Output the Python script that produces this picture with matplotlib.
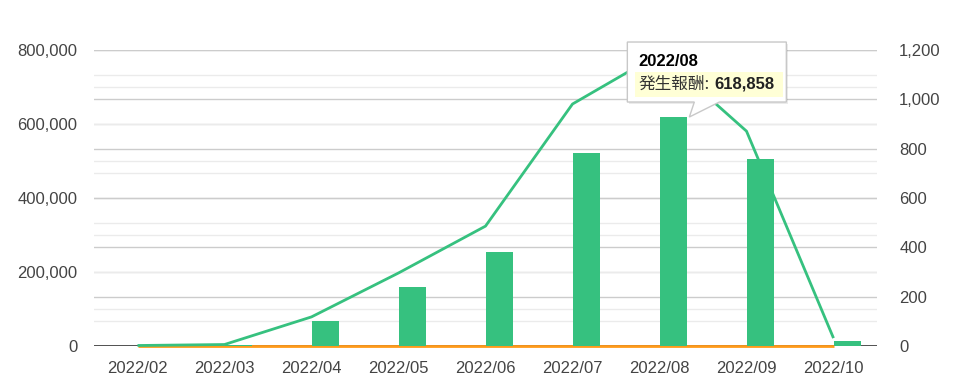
import matplotlib
matplotlib.use('Agg')
import matplotlib.pyplot as plt
from matplotlib.patches import Polygon, Rectangle
from matplotlib.transforms import IdentityTransform
from matplotlib.ticker import FuncFormatter

plt.rcParams['font.family'] = ['Liberation Sans', 'Noto Sans CJK JP', 'DejaVu Sans']

# データ
months = ['2022/02', '2022/03', '2022/04', '2022/05', '2022/06',
          '2022/07', '2022/08', '2022/09', '2022/10']
reward = [0, 4000, 68000, 159000, 253000, 522000, 618858, 505000, 13500]   # 発生報酬 (左軸)
count = [2, 6, 118, 296, 486, 981, 1185, 871, 32]                          # 件数 (右軸)
other = [0, 0, 0, 0, 0, 0, 0, 0, 0]                                        # オレンジの線
tip_idx = 6

green = '#36c17f'
orange = '#ff9a1a'
label_col = '#444444'

fig = plt.figure(figsize=(9.66, 3.9), dpi=100)
rect = [94 / 966, 44 / 390, 783 / 966, 296 / 390]

# グリッド用の一番下の軸
axg = fig.add_axes(rect, zorder=0)
ax2 = fig.add_axes(rect, zorder=1)   # 折れ線 (右軸)
ax = fig.add_axes(rect, zorder=2)    # 棒 (左軸)

x = list(range(len(months)))
for a in (axg, ax2, ax):
    a.set_xlim(-0.5, len(months) - 0.5)
    for s in a.spines.values():
        s.set_visible(False)
    a.tick_params(length=0)

ax.set_ylim(0, 800000)
axg.set_ylim(0, 800000)
ax2.set_ylim(0, 1200)

# グリッド線
for v in range(100000, 800001, 100000):
    axg.axhline(v, color='#ebebeb' if v % 200000 else '#dedede', lw=1, zorder=0)
for v in range(100, 1201, 100):
    axg.axhline(v * 800000 / 1200, color='#ebebeb' if v % 200 else '#cccccc', lw=1, zorder=0)
axg.axhline(0, color='#333333', lw=1.2, zorder=1)
axg.set_xticks([])
axg.set_yticks([])

# 折れ線
ax2.patch.set_visible(False)
ax2.plot(x, other, color=orange, lw=2, solid_capstyle='butt', zorder=2, clip_on=False)
ax2.plot(x, count, color=green, lw=2, solid_capstyle='butt', zorder=3, clip_on=False)
ax2.set_xticks([])
ax2.yaxis.tick_right()
ax2.set_yticks(range(0, 1201, 200))
ax2.yaxis.set_major_formatter(FuncFormatter(lambda v, p: f'{int(v):,}'))
ax2.tick_params(axis='y', labelsize=12, labelcolor=label_col, pad=16)

# 棒
ax.patch.set_visible(False)
bw = 0.31
ax.bar([i + 0.01 for i in x], reward, width=bw, align='edge', color=green, zorder=3)
ax.set_xticks(x)
ax.set_xticklabels(months)
ax.set_yticks(range(0, 800001, 200000))
ax.yaxis.set_major_formatter(FuncFormatter(lambda v, p: f'{int(v):,}'))
ax.tick_params(axis='both', labelsize=12, labelcolor=label_col)
ax.tick_params(axis='y', pad=12)
ax.tick_params(axis='x', pad=11)

# ツールチップ
tx, ty = ax.transData.transform((tip_idx + 0.01 + bw, reward[tip_idx]))
tx += 2
ident = IdentityTransform()
shadow = Rectangle((tx - 60, ty + 13), 159, 60, transform=ident,
                   facecolor='#000000', alpha=0.08, edgecolor='none', zorder=9)
fig.add_artist(shadow)
box = Polygon([(tx - 62, ty + 15), (tx + 5, ty + 15), (tx, ty), (tx + 30, ty + 15),
               (tx + 97, ty + 15), (tx + 97, ty + 75), (tx - 62, ty + 75)],
              closed=True, transform=ident, facecolor='white', edgecolor='#c8c8c8',
              lw=1, zorder=10)
fig.add_artist(box)
hl = Rectangle((tx - 54, ty + 20), 148, 25, transform=ident,
               facecolor='#ffffd6', edgecolor='none', zorder=11)
fig.add_artist(hl)

t1 = fig.text(tx - 51, ty + 56, months[tip_idx], transform=ident, fontsize=12,
              fontweight='bold', color='black', va='center', ha='left', zorder=12)
t2 = fig.text(tx - 51, ty + 33, '発生報酬:', transform=ident, fontsize=12,
              family=['Noto Sans CJK JP', 'DejaVu Sans'], color='#333333',
              va='center', ha='left', zorder=12)
fig.canvas.draw()
bb = t2.get_window_extent()
fig.text(bb.x1 + 5, ty + 33, f'{reward[tip_idx]:,}', transform=ident, fontsize=12,
         fontweight='bold', color='#222222', va='center', ha='left', zorder=12)

fig.savefig('out.png', dpi=100)
